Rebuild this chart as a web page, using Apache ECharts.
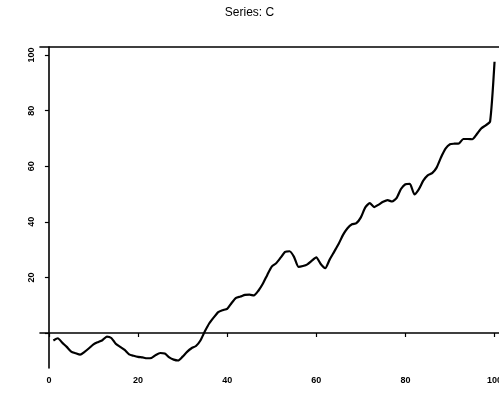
<!DOCTYPE html>
<html>
<head>
<meta charset="utf-8">
<script src="https://cdn.jsdelivr.net/npm/echarts@6/dist/echarts.min.js"></script>
<style>
  html, body { margin: 0; padding: 0; background: #fff; }
  #chart { width: 499px; height: 403px; }
</style>
</head>
<body>
<div id="chart"></div>
<script>
// Series C (one value per time step)
const seriesValues = [
  -2.7, -1.9, -3.5, -5.0, -6.7, -7.3, -7.8, -6.8, -5.5, -4.1,
  -3.3, -2.6, -1.3, -1.8, -3.9, -5.0, -6.1, -7.7, -8.2, -8.6,
  -8.8, -9.1, -9.0, -7.9, -7.2, -7.4, -8.8, -9.6, -9.9, -8.5,
  -6.8, -5.5, -4.7, -2.7, 0.6, 3.5, 5.6, 7.5, 8.2, 8.7,
  10.8, 12.6, 13.1, 13.7, 13.8, 13.5, 15.2, 17.7, 20.9, 23.9,
  25.1, 27.1, 29.2, 29.4, 27.4, 23.8, 24.1, 24.7, 26.0, 27.2,
  24.8, 23.3, 26.4, 29.2, 32.0, 35.3, 37.7, 39.1, 39.5, 41.6,
  45.2, 46.7, 45.3, 46.2, 47.2, 47.8, 47.3, 48.5, 51.8, 53.5,
  53.7, 49.9, 51.7, 54.8, 56.7, 57.5, 59.5, 63.2, 66.3, 67.9,
  68.1, 68.2, 69.8, 69.8, 69.7, 71.5, 73.6, 74.7, 76.1, 97.6
];
const xTicks = [0, 20, 40, 60, 80, 100];
const yTicks = [0, 20, 40, 60, 80, 100];
const yLabels = [20, 40, 60, 80, 100];

const chart = echarts.init(document.getElementById('chart'), null, { renderer: 'canvas' });

const font = 'Liberation Sans, Arial, sans-serif';
const axisLine = { show: true, lineStyle: { color: '#000', width: 1.6 } };

chart.setOption({
  animation: false,
  backgroundColor: '#fff',
  title: {
    text: 'Series: C',
    left: 'center',
    top: 2,
    textStyle: { fontFamily: font, fontSize: 12, fontWeight: 'normal', color: '#000' }
  },
  grid: { left: 40, right: 0, top: 47, bottom: 35, outerBoundsMode: 'none', containLabel: false },
  xAxis: [
    {
      type: 'value',
      position: 'bottom',
      min: -2,
      max: 101,
      axisLine: axisLine,
      axisTick: { show: true, customValues: xTicks, length: 4, lineStyle: { color: '#000', width: 1.2 } },
      axisLabel: {
        customValues: xTicks,
        hideOverlap: false,
        margin: 8,
        fontFamily: font, fontSize: 9, fontWeight: 'bold', color: '#000'
      },
      splitLine: { show: false }
    },
    {
      type: 'value',
      position: 'top',
      min: -2,
      max: 101,
      axisLine: axisLine,
      axisTick: { show: false },
      axisLabel: { show: false },
      splitLine: { show: false }
    }
  ],
  yAxis: {
    type: 'value',
    min: -12.6,
    max: 102.9,
    axisLine: axisLine,
    axisTick: { show: true, customValues: yTicks, length: 4, lineStyle: { color: '#000', width: 1.2 } },
    axisLabel: {
      customValues: yLabels,
      rotate: 90,
      margin: 4,
      fontFamily: font, fontSize: 9, fontWeight: 'bold', color: '#000'
    },
    splitLine: { show: false }
  },
  series: [{
    type: 'line',
    xAxisIndex: 0,
    data: seriesValues.map((v, i) => [i + 1, v]),
    showSymbol: false,
    smooth: 0.2,
    lineStyle: { color: '#000', width: 2.2 }
  }]
});
</script>
</body>
</html>
